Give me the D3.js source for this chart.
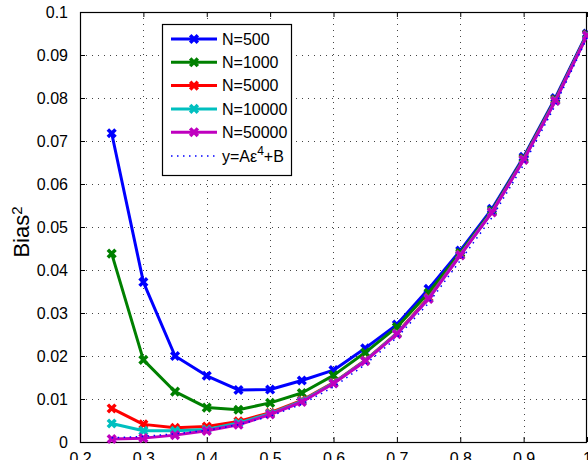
<!DOCTYPE html>
<html>
<head>
<meta charset="utf-8">
<script src="https://cdn.jsdelivr.net/npm/d3@7"></script>
<style>
  body { margin: 0; background: #fff; }
  text { font-family: "Liberation Sans", Arial, sans-serif; }
</style>
</head>
<body>
<div id="chart"></div>
<script>
// epsilon values on the x axis
const eps = [0.25, 0.3, 0.35, 0.4, 0.45, 0.5, 0.55, 0.6, 0.65, 0.7, 0.75, 0.8, 0.85, 0.9, 0.95, 1.0];

// Bias^2 for each sample size
const n500 = [0.0718, 0.0372, 0.0200, 0.0154, 0.0121, 0.0122, 0.0143, 0.0167, 0.0218, 0.0273, 0.0356, 0.0445, 0.0542, 0.0663, 0.0800, 0.0950];
const n1000 = [0.0438, 0.0191, 0.0117, 0.0080, 0.0075, 0.0091, 0.0114, 0.0155, 0.0208, 0.0267, 0.0347, 0.0440, 0.0538, 0.0660, 0.0797, 0.0948];
const n5000 = [0.0078, 0.0041, 0.0033, 0.0036, 0.0048, 0.0068, 0.0097, 0.0138, 0.0190, 0.0253, 0.0336, 0.0436, 0.0535, 0.0658, 0.0795, 0.0947];
const n10000 = [0.0043, 0.0026, 0.0026, 0.0029, 0.0044, 0.0066, 0.0095, 0.0137, 0.0189, 0.0252, 0.0334, 0.0435, 0.0535, 0.0657, 0.0794, 0.0946];
const n50000 = [0.0007, 0.0009, 0.0016, 0.0026, 0.0040, 0.0064, 0.0093, 0.0136, 0.0188, 0.0251, 0.0333, 0.0434, 0.0534, 0.0656, 0.0793, 0.0945];
// fitted curve y = A eps^4 + B
const fit = [0.0010, 0.0013, 0.0019, 0.0027, 0.0040, 0.0060, 0.0088, 0.0128, 0.0180, 0.0243, 0.0323, 0.0422, 0.0522, 0.0645, 0.0783, 0.0940];

const seriesNames = ['N=500', 'N=1000', 'N=5000', 'N=10000', 'N=50000'];
const seriesValues = [n500, n1000, n5000, n10000, n50000];
const seriesColors = ['#0000ff', '#008000', '#ff0000', '#00bfbf', '#bf00bf'];

const xTicks = [0.2, 0.3, 0.4, 0.5, 0.6, 0.7, 0.8, 0.9, 1];
const yTicks = [0, 0.01, 0.02, 0.03, 0.04, 0.05, 0.06, 0.07, 0.08, 0.09, 0.1];

const W = 588, H = 460;
const margin = { top: 12, right: 1, bottom: 18, left: 80 };
const width = W - margin.left - margin.right,
  height = H - margin.top - margin.bottom;

const root = d3.select('#chart').append('svg')
  .attr('width', W)
  .attr('height', H);

const svg = root.append('g')
  .attr('transform', 'translate(' + margin.left + ',' + margin.top + ')');

const x = d3.scaleLinear().domain([0.2, 1]).range([0, width]);
const y = d3.scaleLinear().domain([0, 0.1]).range([height, 0]);

// Grid (dotted)
svg.append('g')
  .selectAll('line.gx')
  .data(xTicks.slice(1, -1))
  .enter().append('line')
  .attr('x1', (d) => Math.round(x(d)) + 0.5)
  .attr('x2', (d) => Math.round(x(d)) + 0.5)
  .attr('y1', 0).attr('y2', height)
  .attr('stroke', '#444')
  .attr('stroke-width', 1)
  .attr('stroke-dasharray', '1,5');
svg.append('g')
  .selectAll('line.gy')
  .data(yTicks.slice(1, -1))
  .enter().append('line')
  .attr('y1', (d) => Math.round(y(d)) + 0.5)
  .attr('y2', (d) => Math.round(y(d)) + 0.5)
  .attr('x1', 0).attr('x2', width)
  .attr('stroke', '#444')
  .attr('stroke-width', 1)
  .attr('stroke-dasharray', '1,5');

// Axes (ticks point inward, MATLAB style)
const fmt = (d) => (d === 0 ? '0' : d3.format('')(+d.toFixed(2)));
const axL = svg.append('g').call(d3.axisLeft(y).tickValues(yTicks).tickSize(-5).tickPadding(12).tickFormat(fmt));
const axR = svg.append('g').attr('transform', 'translate(' + width + ',0)')
  .call(d3.axisRight(y).tickValues(yTicks).tickSize(-5).tickFormat(''));
const axB = svg.append('g').attr('transform', 'translate(0,' + height + ')')
  .call(d3.axisBottom(x).tickValues(xTicks).tickSize(-5).tickPadding(11).tickFormat(fmt));
const axT = svg.append('g')
  .call(d3.axisTop(x).tickValues(xTicks).tickSize(-5).tickFormat(''));
[axL, axR, axB, axT].forEach((a) => {
  a.select('.domain').remove();
  a.selectAll('line').attr('stroke', '#000');
  a.selectAll('text').style('font-size', '16px').attr('fill', '#000');
});
axB.selectAll('text').attr('dy', '0.71em');

// Box
svg.append('rect')
  .attr('x', 0.5).attr('y', 0.5)
  .attr('width', width - 1).attr('height', height)
  .attr('fill', 'none')
  .attr('stroke', '#000')
  .attr('stroke-width', 1.2);

// Y axis label
const yl = root.append('text')
  .attr('transform', 'translate(29,' + (margin.top + 220) + ') rotate(-90)')
  .attr('text-anchor', 'middle')
  .style('font-size', '22px');
yl.append('tspan').text('Bias');
yl.append('tspan').attr('dy', '-0.5em').style('font-size', '15px').text('2');

// Lines and markers
const line = d3.line().x((d, i) => x(eps[i])).y((d) => y(d));
const cross = d3.symbol().type(d3.symbolX).size(40);

seriesValues.forEach((vals, k) => {
  svg.append('path')
    .datum(vals)
    .attr('d', line)
    .attr('fill', 'none')
    .attr('stroke', seriesColors[k])
    .attr('stroke-width', 3)
    .attr('stroke-linejoin', 'round');
  svg.selectAll('.m' + k)
    .data(vals)
    .enter().append('path')
    .attr('d', cross)
    .attr('transform', (d, i) => 'translate(' + x(eps[i]) + ',' + y(d) + ')')
    .attr('fill', 'none')
    .attr('stroke', seriesColors[k])
    .attr('stroke-width', 3.5);
});

svg.append('path')
  .datum(fit)
  .attr('d', line)
  .attr('fill', 'none')
  .attr('stroke', '#0000ff')
  .attr('stroke-width', 1.5)
  .attr('stroke-dasharray', '1.5,4.5');

// Legend
const lg = root.append('g').attr('transform', 'translate(162,24)');
lg.append('rect')
  .attr('x', 0.5).attr('y', 0.5)
  .attr('width', 129).attr('height', 151)
  .attr('fill', '#fff')
  .attr('stroke', '#000')
  .attr('stroke-width', 1.2);
seriesNames.forEach((name, k) => {
  const yy = 15 + k * 23.3;
  lg.append('line')
    .attr('x1', 9).attr('x2', 55)
    .attr('y1', yy).attr('y2', yy)
    .attr('stroke', seriesColors[k])
    .attr('stroke-width', 3);
  lg.append('path')
    .attr('d', cross)
    .attr('transform', 'translate(32,' + yy + ')')
    .attr('fill', 'none')
    .attr('stroke', seriesColors[k])
    .attr('stroke-width', 3.5);
  lg.append('text')
    .attr('x', 60).attr('y', yy)
    .attr('dy', '0.35em')
    .style('font-size', '16px')
    .text(name);
});
const fy = 132;
lg.append('line')
  .attr('x1', 9).attr('x2', 55)
  .attr('y1', fy).attr('y2', fy)
  .attr('stroke', '#0000ff')
  .attr('stroke-width', 1.5)
  .attr('stroke-dasharray', '1.5,4.5');
const ft = lg.append('text')
  .attr('x', 60).attr('y', fy + 6)
  .style('font-size', '16px');
ft.append('tspan').text('y=A\u03b5');
ft.append('tspan').attr('dy', '-0.6em').style('font-size', '12px').text('4');
ft.append('tspan').attr('dy', '0.45em').text('+B');
</script>
</body>
</html>
